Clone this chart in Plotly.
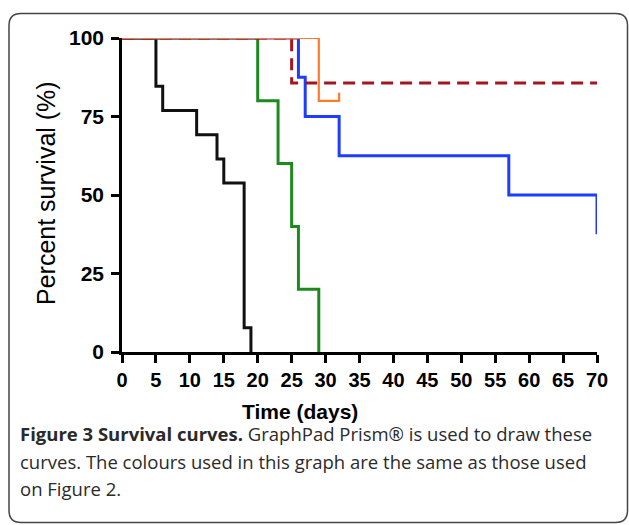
import plotly.graph_objects as go

# ---------------- data ----------------
black_t = [0, 5, 6, 11, 14, 15, 18, 19]
black_s = [100, 84.6, 76.9, 69.2, 61.5, 53.8, 7.7, 0]

green_t = [0, 20, 23, 25, 26, 29]
green_s = [100, 80, 60, 40, 20, 0]

blue_t = [0, 26, 27, 32, 57, 70]
blue_s = [100, 87.5, 75, 62.5, 50, 37.5]

red_t = [0, 25, 70]
red_s = [100, 85.7, 85.7]

orange_t = [0, 29, 32]
orange_s = [100, 80, 80]
orange_censor_t = [32]
orange_censor_s = [80]

x_ticks = list(range(0, 75, 5))
y_ticks = [0, 25, 50, 75, 100]

# ---------------- layout helpers ----------------
W, H = 629, 525
L, R, T, B = 122, 597, 37.5, 352.5


def px(x, y):
    return (x - L) / (R - L), (B - y) / (B - T)


fig = go.Figure()

series = [
    (black_t, black_s, "#111111", 3, "solid"),
    (green_t, green_s, "#1e8a1e", 3, "solid"),
    (blue_t, blue_s, "#1f3dff", 3, "solid"),
    (red_t, red_s, "#a3161c", 3, "12px,7px"),
    (orange_t, orange_s, "#ff7a2a", 2.2, "solid"),
]
for t, s, c, w, d in series:
    fig.add_trace(go.Scatter(x=t, y=s, mode="lines", line=dict(color=c, width=w, dash=d, shape="hv"),
                             cliponaxis=False, showlegend=False, hoverinfo="skip"))

for ct, cs in zip(orange_censor_t, orange_censor_s):
    fig.add_trace(go.Scatter(x=[ct, ct], y=[cs - 0.3, cs + 2.6], mode="lines",
                             line=dict(color="#ff7a2a", width=2.2), cliponaxis=False,
                             showlegend=False, hoverinfo="skip"))

axis_common = dict(showgrid=False, zeroline=False, showline=True, linecolor="black", linewidth=2.5,
                   ticks="outside", ticklen=8, tickwidth=2.5, tickcolor="black")

fig.update_xaxes(range=[0, 70], tickvals=x_ticks, ticktext=[str(v) for v in x_ticks],
                 tickfont=dict(family="Liberation Sans", size=20, color="black", weight="bold"),
                 ticklabelstandoff=0, **axis_common)
fig.update_yaxes(range=[0, 100], tickvals=y_ticks, ticktext=[str(v) for v in y_ticks],
                 tickfont=dict(family="Liberation Sans", size=21, color="black", weight="bold"),
                 ticklabelstandoff=3, **axis_common)

ann = []
x0, y0 = px(46, 193)
ann.append(dict(text="Percent survival (%)", x=x0, y=y0, xref="paper", yref="paper", textangle=-90,
                showarrow=False, font=dict(family="Liberation Sans", size=25, color="black"),
                xanchor="center", yanchor="middle"))
x0, y0 = px(300, 412)
ann.append(dict(text="Time (days)", x=x0, y=y0, xref="paper", yref="paper", showarrow=False,
                font=dict(family="Liberation Sans", size=21, color="black", weight="bold"),
                xanchor="center", yanchor="middle"))

cap_font = dict(family="Open Sans", size=18.5, color="#2a2a2a")
captions = [
    ("<b>Figure 3 Survival curves.</b> GraphPad Prism® is used to draw these", 434),
    ("curves. The colours used in this graph are the same as those used", 462),
    ("on Figure 2.", 489),
]
for txt, yy in captions:
    x0, y0 = px(18, yy)
    ann.append(dict(text=txt, x=x0, y=y0, xref="paper", yref="paper", showarrow=False,
                    font=cap_font, xanchor="left", yanchor="middle"))

# rounded frame
r = 12
fl, ft, fr, fb = 9, 13, 627.5, 523.5


def P(x, y):
    a, b = px(x, y)
    return f"{a:.5f},{b:.5f}"


path = (f"M {P(fl + r, ft)} L {P(fr - r, ft)} Q {P(fr, ft)} {P(fr, ft + r)} "
        f"L {P(fr, fb - r)} Q {P(fr, fb)} {P(fr - r, fb)} L {P(fl + r, fb)} "
        f"Q {P(fl, fb)} {P(fl, fb - r)} L {P(fl, ft + r)} Q {P(fl, ft)} {P(fl + r, ft)} Z")

fig.update_layout(
    width=W, height=H,
    margin=dict(l=L, r=W - R, t=T, b=H - B),
    paper_bgcolor="white", plot_bgcolor="white",
    annotations=ann,
    shapes=[dict(type="path", path=path, xref="paper", yref="paper",
                 line=dict(color="#444444", width=1.5), layer="below")],
)

fig.write_html("out.html")
